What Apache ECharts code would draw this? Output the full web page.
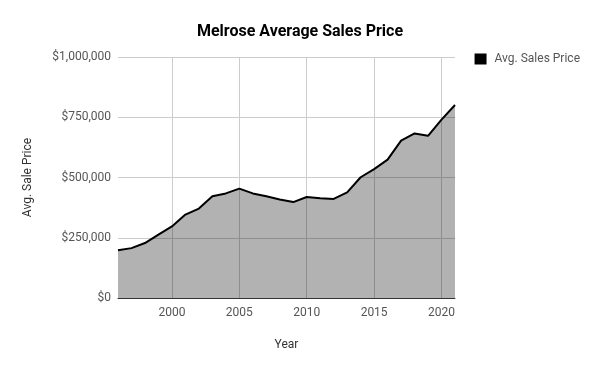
<!DOCTYPE html>
<html><head><meta charset="utf-8">
<script src="https://cdn.jsdelivr.net/npm/echarts@6/dist/echarts.min.js"></script>
<style>html,body{margin:0;padding:0;background:#fff}#c{width:600px;height:371px}</style>
</head><body><div id="c"></div>
<script>
const years = ['1996','1997','1998','1999','2000','2001','2002','2003','2004','2005','2006','2007','2008','2009','2010','2011','2012','2013','2014','2015','2016','2017','2018','2019','2020','2021'];
const avgSalesPrice = [198000,207000,228000,263000,297000,346000,371000,422000,434000,454000,434000,422000,409000,398000,419000,414000,411000,438000,501000,535000,574000,653000,683000,673000,740000,801000];
const yTicks = [0,250000,500000,750000,1000000];

const chart = echarts.init(document.getElementById('c'), null, {renderer:'canvas'});
chart.setOption({
  animation:false,
  textStyle:{fontFamily:'Roboto'},
  title:{text:'Melrose Average Sales Price', left:'center', top:19,
    textStyle:{fontSize:16, fontWeight:'bold', color:'#000', fontFamily:'Roboto'}},
  legend:{right:15, top:48, itemWidth:12, itemHeight:11, itemGap:10,
    icon:'rect', textStyle:{fontSize:12, color:'#555', fontFamily:'Roboto', padding:[0,0,0,3]},
    data:[{name:'Avg. Sales Price', itemStyle:{color:'#000'}}]},
  grid:{left:118, right:145, top:57, bottom:73, containLabel:false},
  xAxis:{type:'category', data:years, boundaryGap:false,
    name:'Year', nameLocation:'middle', nameGap:41,
    nameTextStyle:{fontSize:12, color:'#333', fontFamily:'Roboto'},
    axisLine:{show:true, lineStyle:{color:'#333', width:1}},
    axisTick:{show:false},
    axisLabel:{interval:(i,v)=>(+v)%5===0, color:'#555', fontSize:12, margin:9, fontFamily:'Roboto'},
    splitLine:{show:true, interval:(i,v)=>(+v)%5===0, lineStyle:{color:'#ccc', width:1}}
  },
  yAxis:{type:'value', min:yTicks[0], max:yTicks[yTicks.length-1], interval:250000,
    name:'Avg. Sale Price', nameLocation:'middle', nameGap:84, nameRotate:90,
    nameTextStyle:{fontSize:12, color:'#333', fontFamily:'Roboto'},
    axisLine:{show:false}, axisTick:{show:false},
    axisLabel:{color:'#555', fontSize:12, margin:7, fontFamily:'Roboto',
      formatter:v=>'$'+v.toLocaleString('en-US')},
    splitLine:{show:true, lineStyle:{color:'#ccc', width:1}}
  },
  series:[{name:'Avg. Sales Price', type:'line', data:avgSalesPrice,
    showSymbol:false, symbol:'none', smooth:false,
    lineStyle:{color:'#000', width:2}, itemStyle:{color:'#000'},
    areaStyle:{color:'rgba(0,0,0,0.3)', opacity:1}}]
});
</script></body></html>
